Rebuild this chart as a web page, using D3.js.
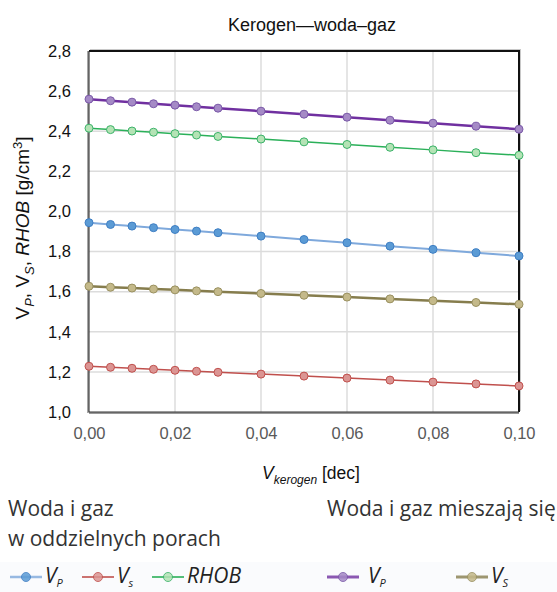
<!DOCTYPE html>
<html>
<head>
<meta charset="utf-8">
<script src="https://cdn.jsdelivr.net/npm/d3@7"></script>
<style>
  body { margin: 0; background: #fff; }
  svg text { font-family: "Liberation Sans", Arial, sans-serif; }
</style>
</head>
<body>
<script>
// kerogen volume fraction
var vKerogen = [0, 0.005, 0.01, 0.015, 0.02, 0.025, 0.03, 0.04, 0.05, 0.06, 0.07, 0.08, 0.09, 0.10];

// water and gas in separate pores
var vpSep   = [1.944, 1.935, 1.927, 1.919, 1.910, 1.902, 1.894, 1.877, 1.860, 1.844, 1.827, 1.811, 1.794, 1.778];
var vsSep   = [1.228, 1.223, 1.218, 1.213, 1.208, 1.203, 1.198, 1.189, 1.179, 1.169, 1.159, 1.149, 1.140, 1.130];
var rhobSep = [2.415, 2.408, 2.401, 2.395, 2.388, 2.381, 2.374, 2.361, 2.347, 2.334, 2.320, 2.307, 2.293, 2.280];

// water and gas mixed
var vpMix = [2.560, 2.552, 2.545, 2.537, 2.530, 2.522, 2.515, 2.500, 2.485, 2.470, 2.455, 2.440, 2.425, 2.410];
var vsMix = [1.627, 1.622, 1.618, 1.613, 1.609, 1.604, 1.600, 1.591, 1.582, 1.573, 1.564, 1.555, 1.546, 1.537];

var xTicks = [0, 0.02, 0.04, 0.06, 0.08, 0.10];
var yTicks = [1.0, 1.2, 1.4, 1.6, 1.8, 2.0, 2.2, 2.4, 2.6, 2.8];

(function() {
var series = [
  { values: vsSep,   line: "#c0504d", fill: "#db9593", stroke: "#c0504d", width: 1.5 },
  { values: vsMix,   line: "#867d4d", fill: "#c4b98a", stroke: "#9a9160", width: 2.5 },
  { values: vpSep,   line: "#7fa9dc", fill: "#5b9bd5", stroke: "#3f7fc4", width: 2 },
  { values: rhobSep, line: "#2bb059", fill: "#b4e3b5", stroke: "#3cb36a", width: 1.5 },
  { values: vpMix,   line: "#7030a0", fill: "#a58ac6", stroke: "#7a59a8", width: 2.5 }
];

var width = 557, height = 592;
var pLeft = 89, pRight = 519, pTop = 51, pBottom = 412;

var svg = d3.select("body").append("svg")
  .attr("width", width)
  .attr("height", height);

var x = d3.scaleLinear().domain([0, 0.10]).range([pLeft, pRight]);
var y = d3.scaleLinear().domain([1.0, 2.8]).range([pBottom, pTop]);
var fmt = function(d) { return d3.format(".2f")(d).replace(".", ","); };
var fmt1 = function(d) { return d3.format(".1f")(d).replace(".", ","); };

// gridlines
svg.append("g").selectAll("line")
  .data(yTicks.slice(1, -1))
  .enter().append("line")
    .attr("x1", pLeft).attr("x2", pRight)
    .attr("y1", function(d) { return y(d); })
    .attr("y2", function(d) { return y(d); })
    .attr("stroke", "#dcdcdc").attr("stroke-width", 1.5);

svg.append("g").selectAll("line")
  .data(xTicks.slice(1, -1))
  .enter().append("line")
    .attr("y1", pTop).attr("y2", pBottom)
    .attr("x1", function(d) { return x(d); })
    .attr("x2", function(d) { return x(d); })
    .attr("stroke", "#dcdcdc").attr("stroke-width", 1.5);

// frame: dark top/right, grey-shadowed left/bottom
svg.append("path")
  .attr("d", "M" + pLeft + "," + pTop + "H" + pRight + "V" + pBottom)
  .attr("fill", "none").attr("stroke", "#c8c8c8").attr("stroke-width", 2)
  .attr("transform", "translate(1,-1)");
svg.append("path")
  .attr("d", "M" + pLeft + "," + pTop + "H" + pRight + "V" + pBottom)
  .attr("fill", "none").attr("stroke", "#111").attr("stroke-width", 2);
svg.append("line")
  .attr("x1", pLeft - 1).attr("x2", pLeft - 1).attr("y1", pTop).attr("y2", pBottom + 1)
  .attr("stroke", "#a6a6a6").attr("stroke-width", 2);
svg.append("line")
  .attr("x1", pLeft).attr("x2", pLeft).attr("y1", pTop).attr("y2", pBottom)
  .attr("stroke", "#222").attr("stroke-width", 1);
svg.append("line")
  .attr("x1", pLeft).attr("x2", pRight).attr("y1", pBottom + 1).attr("y2", pBottom + 1)
  .attr("stroke", "#999").attr("stroke-width", 2);
svg.append("line")
  .attr("x1", pLeft).attr("x2", pRight).attr("y1", pBottom).attr("y2", pBottom)
  .attr("stroke", "#333").attr("stroke-width", 1);

// axes (labels only)
var yAxis = svg.append("g")
  .attr("transform", "translate(" + pLeft + ",0)")
  .call(d3.axisLeft(y).tickValues(yTicks).tickFormat(fmt1).tickSize(0).tickPadding(18));
yAxis.select(".domain").remove();
yAxis.selectAll("text").attr("font-size", 16.5).attr("fill", "#111");

var xAxis = svg.append("g")
  .attr("transform", "translate(0," + pBottom + ")")
  .call(d3.axisBottom(x).tickValues(xTicks).tickFormat(fmt).tickSize(0).tickPadding(15));
xAxis.select(".domain").remove();
xAxis.selectAll("text").attr("font-size", 16.5).attr("fill", "#595959");

// series
var line = d3.line()
  .x(function(d, i) { return x(vKerogen[i]); })
  .y(function(d) { return y(d); });

series.forEach(function(s) {
  svg.append("path")
    .datum(s.values)
    .attr("d", line)
    .attr("fill", "none")
    .attr("stroke", s.line)
    .attr("stroke-width", s.width);
  svg.append("g").selectAll("circle")
    .data(s.values)
    .enter().append("circle")
      .attr("cx", function(d, i) { return x(vKerogen[i]); })
      .attr("cy", function(d) { return y(d); })
      .attr("r", 4)
      .attr("fill", s.fill)
      .attr("stroke", s.stroke)
      .attr("stroke-width", 1);
});

// title
svg.append("text")
  .attr("x", 312).attr("y", 31)
  .attr("text-anchor", "middle")
  .attr("font-size", 18).attr("fill", "#111")
  .text("Kerogen\u2014woda\u2013gaz");

// y axis title
var yt = svg.append("text")
  .attr("transform", "translate(29,228) rotate(-90)")
  .attr("text-anchor", "middle")
  .attr("font-size", 19).attr("fill", "#111");
yt.append("tspan").text("V");
yt.append("tspan").attr("font-size", 13).attr("dy", 5).attr("font-style", "italic").text("P");
yt.append("tspan").attr("dy", -5).text(", V");
yt.append("tspan").attr("font-size", 13).attr("dy", 5).attr("font-style", "italic").text("S");
yt.append("tspan").attr("dy", -5).text(", ");
yt.append("tspan").attr("font-style", "italic").text("RHOB");
yt.append("tspan").text(" [g/cm");
yt.append("tspan").attr("font-size", 13).attr("dy", -7).text("3");
yt.append("tspan").attr("dy", 7).text("]");

// x axis title
var xt = svg.append("text")
  .attr("x", 311).attr("y", 479)
  .attr("text-anchor", "middle")
  .attr("font-size", 17.5).attr("fill", "#111");
xt.append("tspan").attr("font-style", "italic").text("V");
xt.append("tspan").attr("font-size", 12).attr("dy", 5).attr("font-style", "italic").text("kerogen");
xt.append("tspan").attr("dy", -5).text(" [dec]");

// group captions
var cap = svg.append("g")
  .attr("font-size", 21).attr("fill", "#333");
cap.append("text").attr("x", 8).attr("y", 516)
  .style("font-family", "'Open Sans', sans-serif").text("Woda i gaz");
cap.append("text").attr("x", 8).attr("y", 546)
  .style("font-family", "'Open Sans', sans-serif").text("w oddzielnych porach");
cap.append("text").attr("x", 327).attr("y", 516)
  .style("font-family", "'Open Sans', sans-serif").text("Woda i gaz mieszaj\u0105 si\u0119");

// legend
svg.append("rect")
  .attr("x", 0).attr("y", 562).attr("width", width).attr("height", 30)
  .attr("fill", "#fafbfd");

var legendItems = [
  { s: series[2], x: 10, label: "V", sub: "P" },
  { s: series[0], x: 82, label: "V", sub: "s" },
  { s: series[3], x: 152, label: "RHOB", sub: "" },
  { s: series[4], x: 327, label: "V", sub: "P", gap: 6 },
  { s: series[1], x: 456, label: "V", sub: "S" }
];

var lg = svg.append("g").attr("transform", "translate(0,577)");
legendItems.forEach(function(d) {
  lg.append("line")
    .attr("x1", d.x).attr("x2", d.x + 32)
    .attr("stroke", d.s.line).attr("stroke-width", d.s.width + 0.5).attr("opacity", 0.8);
  lg.append("circle")
    .attr("cx", d.x + 16).attr("r", 4.5)
    .attr("fill", d.s.fill).attr("stroke", d.s.stroke).attr("opacity", 0.85);
  var t = lg.append("text")
    .attr("x", d.x + 35 + (d.gap || 0)).attr("y", 6)
    .attr("font-size", 21).attr("font-style", "italic").attr("fill", "#222")
    .style("font-family", "'Open Sans', sans-serif");
  t.append("tspan").text(d.label);
  if (d.sub) t.append("tspan").attr("font-size", 11).attr("dy", 4).text(d.sub);
});
})();
</script>
</body>
</html>
